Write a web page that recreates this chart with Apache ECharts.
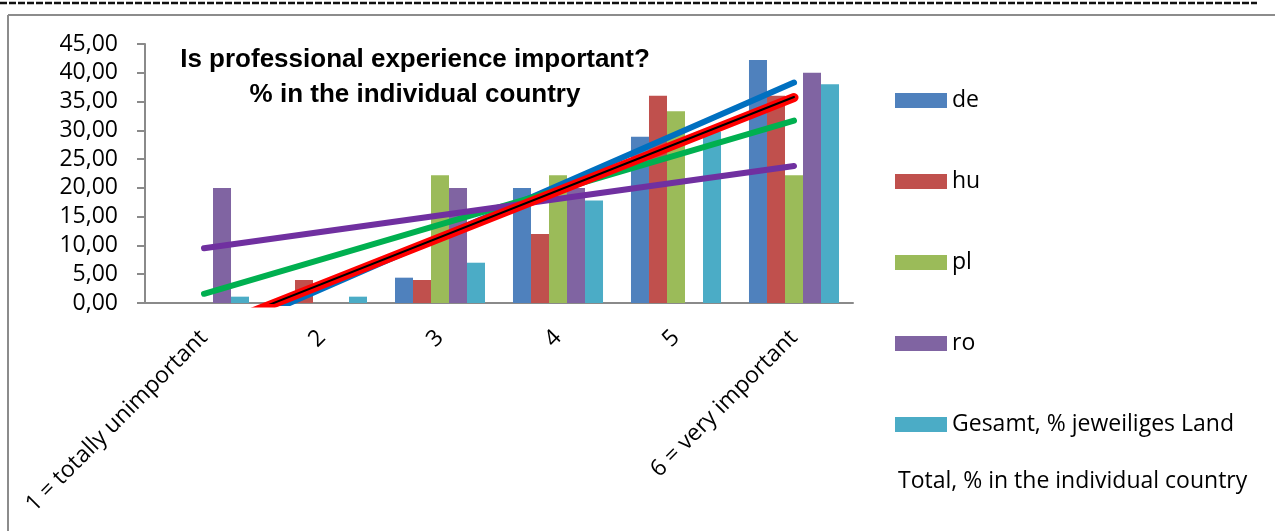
<!DOCTYPE html>
<html>
<head>
<meta charset="utf-8">
<script src="https://cdn.jsdelivr.net/npm/echarts@6/dist/echarts.min.js"></script>
<style>
  html, body { margin: 0; padding: 0; background: #fff; }
  #chart { width: 1275px; height: 531px; }
</style>
</head>
<body>
<div id="chart"></div>
<script>
// categories of the answer scale
var categories = ['1 = totally unimportant', '2', '3', '4', '5', '6 = very important'];

// % in the individual country
var de    = [0, 0, 4.4, 20.0, 28.9, 42.2];
var hu    = [0, 4.0, 4.0, 12.0, 36.0, 36.0];
var pl    = [0, 0, 22.2, 22.2, 33.3, 22.2];
var ro    = [20.0, 0, 20.0, 20.0, 0, 40.0];
var total = [1.1, 1.1, 7.0, 17.8, 29.8, 38.0];

// linear trendlines, value at first and last category
var trendDe    = [-6.5, 38.3];
var trendHu    = [-4.9, 35.7];
var trendPl    = [1.6, 31.7];
var trendRo    = [9.5, 23.8];
var trendTotal = [-4.8, 35.8];

var yTicks = { min: 0, max: 45, step: 5 };

var font = 'Open Sans';

function trendData(ends) {
  // only the two ends, the line is drawn between them
  var d = categories.map(function () { return null; });
  d[0] = ends[0];
  d[d.length - 1] = ends[1];
  return d;
}

function bar(name, data, color) {
  return {
    name: name,
    type: 'bar',
    data: data,
    barGap: 0,
    barCategoryGap: '23.7%',
    itemStyle: { color: color },
    z: 2
  };
}

function trend(name, ends, color, width, z) {
  return {
    name: name,
    type: 'line',
    data: trendData(ends),
    connectNulls: true,
    symbol: 'none',
    silent: true,
    lineStyle: { color: color, width: width, cap: 'round' },
    z: z
  };
}

var myChart = echarts.init(document.getElementById('chart'));

myChart.setOption({
  animation: false,
  backgroundColor: '#fff',
  title: {
    text: 'Is professional experience important?\n% in the individual country',
    left: 415,
    top: 42,
    textAlign: 'center',
    padding: 0,
    textStyle: {
      fontFamily: 'Liberation Sans',
      fontWeight: 'bold',
      fontSize: 26,
      lineHeight: 35,
      color: '#000'
    }
  },
  legend: {
    data: ['de', 'hu', 'pl', 'ro', 'Gesamt, % jeweiliges Land'],
    orient: 'vertical',
    left: 895,
    top: 89,
    padding: 0,
    itemWidth: 52,
    itemHeight: 15,
    itemGap: 58,
    icon: 'rect',
    selectedMode: false,
    textStyle: { fontFamily: font, fontSize: 23, lineHeight: 22, color: '#000' }
  },
  grid: { left: 145, right: 422, top: 44, bottom: 228 },
  xAxis: {
    type: 'category',
    data: categories,
    axisLine: { lineStyle: { color: '#8a8a8a', width: 2 } },
    axisTick: { length: 8, lineStyle: { color: '#8a8a8a', width: 2 } },
    axisLabel: {
      rotate: 45,
      margin: 31,
      interval: 0,
      fontFamily: font,
      fontSize: 23,
      color: '#000'
    }
  },
  yAxis: {
    type: 'value',
    min: yTicks.min,
    max: yTicks.max,
    interval: yTicks.step,
    splitLine: { show: false },
    axisLine: { show: true, lineStyle: { color: '#8a8a8a', width: 2 } },
    axisTick: { show: true, length: 8, lineStyle: { color: '#8a8a8a', width: 2 } },
    axisLabel: {
      margin: 27,
      fontFamily: font,
      fontSize: 23,
      color: '#000',
      formatter: function (v) { return v.toFixed(2).replace('.', ','); }
    }
  },
  graphic: [
    { type: 'line', shape: { x1: 0, y1: 3, x2: 1257, y2: 3 }, style: { stroke: '#111', lineWidth: 2.5, lineDash: [7, 2] } },
    { type: 'line', shape: { x1: 8, y1: 15, x2: 1275, y2: 15 }, style: { stroke: '#8c8c8c', lineWidth: 2 } },
    { type: 'line', shape: { x1: 8, y1: 15, x2: 8, y2: 531 }, style: { stroke: '#8c8c8c', lineWidth: 2 } },
    {
      type: 'text',
      left: 898,
      top: 470,
      style: { text: 'Total, % in the individual country', fontFamily: font, fontSize: 23, fill: '#000' }
    }
  ],
  series: [
    bar('de', de, '#4F81BD'),
    bar('hu', hu, '#C0504D'),
    bar('pl', pl, '#9BBB59'),
    bar('ro', ro, '#8064A2'),
    bar('Gesamt, % jeweiliges Land', total, '#4BACC6'),
    trend('trend de', trendDe, '#0070C0', 6, 3),
    trend('trend pl', trendPl, '#00B050', 6, 4),
    trend('trend ro', trendRo, '#7030A0', 6, 5),
    trend('trend hu', trendHu, '#FF0000', 9, 6),
    trend('trend total', trendTotal, '#000000', 2, 7)
  ]
});
</script>
</body>
</html>
